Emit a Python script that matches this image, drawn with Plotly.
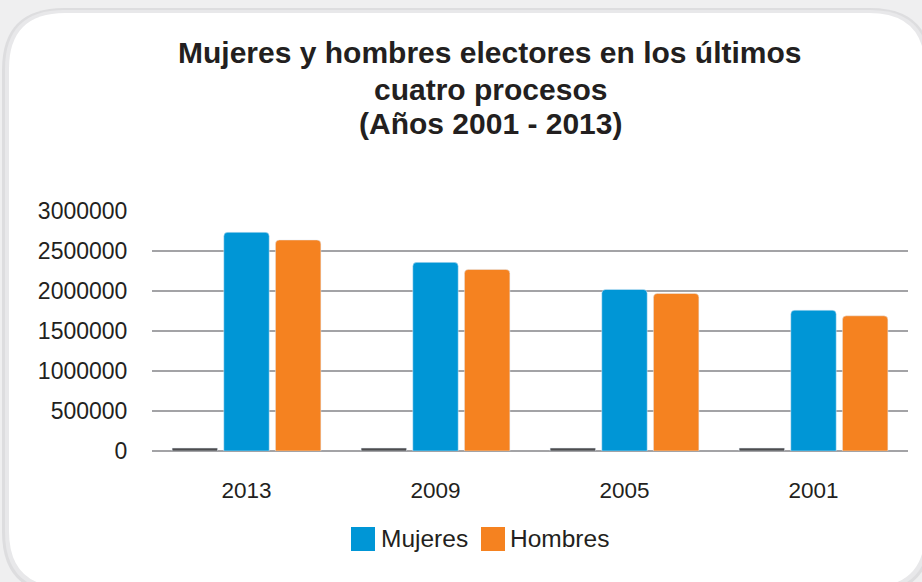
import plotly.graph_objects as go

categories = ["2013", "2009", "2005", "2001"]
anio = [37000, 37000, 37000, 37000]
mujeres = [2734000, 2358000, 2020000, 1760000]
hombres = [2638000, 2270000, 1970000, 1690000]
y_ticks = [0, 500000, 1000000, 1500000, 2000000, 2500000, 3000000]
title_lines = ["Mujeres y hombres electores en los últimos",
               "cuatro procesos",
               "(Años 2001 - 2013)"]
legend_names = ["Mujeres", "Hombres"]

W, H = 922, 582
L, R, T, B = 152, 14, 211, 131
PW, PH = W - L - R, H - T - B


def px(x):
    return (x - L) / PW


def py(y):
    return (H - B - y) / PH


def rounded(x0, y0, x1, y1, r):
    pts = [
        f"M {px(x0 + r)},{py(y0)}",
        f"L {px(x1 - r)},{py(y0)}",
        f"Q {px(x1)},{py(y0)} {px(x1)},{py(y0 + r)}",
        f"L {px(x1)},{py(y1 - r)}",
        f"Q {px(x1)},{py(y1)} {px(x1 - r)},{py(y1)}",
        f"L {px(x0 + r)},{py(y1)}",
        f"Q {px(x0)},{py(y1)} {px(x0)},{py(y1 - r)}",
        f"L {px(x0)},{py(y0 + r)}",
        f"Q {px(x0)},{py(y0)} {px(x0 + r)},{py(y0)}",
        "Z",
    ]
    return " ".join(pts)


FONT = "Liberation Sans, Arial, sans-serif"
TXT = "#231f20"
BLUE = "#0096d6"
ORANGE = "#f58220"

fig = go.Figure()
fig.add_trace(go.Bar(name="Año", x=categories, y=anio, marker_color="#4d4d4f",
                     showlegend=False, hoverinfo="skip"))
fig.add_trace(go.Bar(name=legend_names[0], x=categories, y=mujeres,
                     marker=dict(color=BLUE, cornerradius=4)))
fig.add_trace(go.Bar(name=legend_names[1], x=categories, y=hombres,
                     marker=dict(color=ORANGE, cornerradius=4)))

shapes = [
    dict(type="path", xref="paper", yref="paper", layer="below",
         path=rounded(2, 8, 932, 594, 62), fillcolor="#dddddf", line=dict(width=0)),
    dict(type="path", xref="paper", yref="paper", layer="below",
         path=rounded(5, 10, 929, 591, 59), fillcolor="#e8e8ea", line=dict(width=0)),
    dict(type="path", xref="paper", yref="paper", layer="below",
         path=rounded(9, 13, 925, 587, 56), fillcolor="#ffffff", line=dict(width=0)),
    dict(type="rect", xref="paper", yref="paper", x0=px(351), x1=px(375),
         y0=py(551), y1=py(527), fillcolor=BLUE, line=dict(width=0)),
    dict(type="rect", xref="paper", yref="paper", x0=px(481), x1=px(505),
         y0=py(551), y1=py(527), fillcolor=ORANGE, line=dict(width=0)),
]

annotations = [
    dict(text=legend_names[0], x=px(379), y=py(538), xref="paper", yref="paper",
         xanchor="left", yanchor="middle", showarrow=False,
         font=dict(size=24.5, color=TXT, family=FONT)),
    dict(text=legend_names[1], x=px(508), y=py(538), xref="paper", yref="paper",
         xanchor="left", yanchor="middle", showarrow=False,
         font=dict(size=24.5, color=TXT, family=FONT)),
]
for line, yc in zip(title_lines, [53, 89, 123]):
    annotations.append(dict(text=f"<b>{line}</b>", x=px(490), y=py(yc),
                            xref="paper", yref="paper", xanchor="center",
                            yanchor="middle", showarrow=False,
                            font=dict(size=30, color=TXT, family=FONT)))

fig.update_layout(
    width=W, height=H,
    margin=dict(l=L, r=R, t=T, b=B),
    paper_bgcolor="#efeff0",
    plot_bgcolor="rgba(0,0,0,0)",
    barmode="group", bargap=0.18, bargroupgap=0.12,
    showlegend=False,
    shapes=shapes,
    annotations=annotations,
    font=dict(family=FONT, color=TXT),
    xaxis=dict(type="category", showgrid=False, showline=False, zeroline=False,
               ticks="outside", ticklen=19, tickcolor="rgba(0,0,0,0)",
               tickfont=dict(size=22.5, color=TXT, family=FONT)),
    yaxis=dict(range=[0, 3000000], tickvals=y_ticks,
               ticktext=[str(v) for v in y_ticks],
               showgrid=True, gridcolor="#a3a3a6", gridwidth=2,
               zeroline=True, zerolinecolor="#a3a3a6", zerolinewidth=2,
               showline=False,
               ticks="outside", ticklen=19, tickcolor="rgba(0,0,0,0)",
               tickfont=dict(size=23, color=TXT, family=FONT)),
)

fig.write_html("out.html", config={"displayModeBar": False},
               post_script="document.body.style.margin='0';document.body.style.overflow='hidden';")
